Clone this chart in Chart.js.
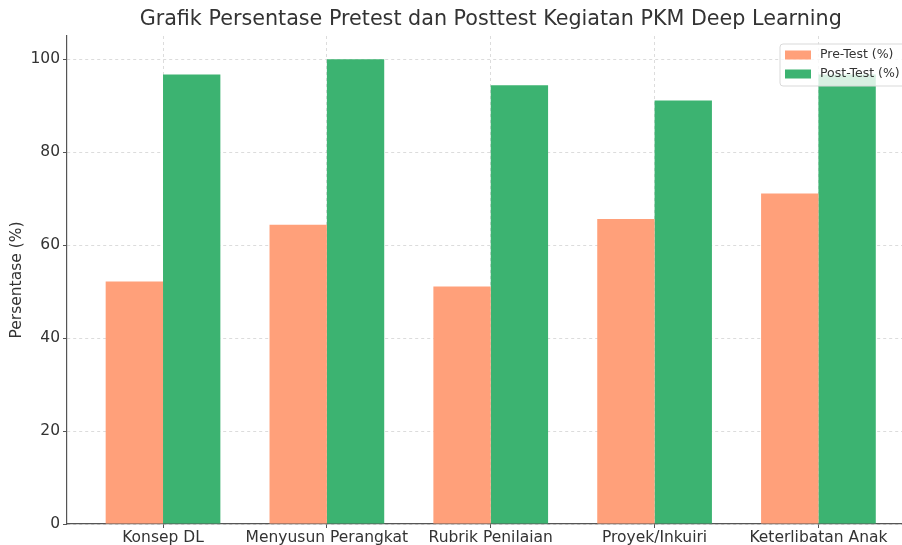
<!DOCTYPE html>
<html>
<head>
<meta charset="utf-8">
<script src="https://cdn.jsdelivr.net/npm/chart.js@4"></script>
<style>
  html, body { margin: 0; padding: 0; background: #fff; }
  #wrap { width: 902px; height: 545px; }
</style>
</head>
<body>
<div id="wrap"><canvas id="chart"></canvas></div>
<script>
// Data
const categories = ["Konsep DL", "Menyusun Perangkat", "Rubrik Penilaian", "Proyek/Inkuiri", "Keterlibatan Anak"];
const preTest = [52.2, 64.4, 51.1, 65.6, 71.1];
const postTest = [96.7, 100, 94.4, 91.1, 96.7];
const yTicks = [0, 20, 40, 60, 80, 100];
const titleText = "Grafik Persentase Pretest dan Posttest Kegiatan PKM Deep Learning";

const preColor = "#FFA07A";
const postColor = "#3CB371";

// Title centred over the axes (the axes run a little past the right edge)
const axesTitle = {
  id: "axesTitle",
  afterDraw(chart) {
    const ctx = chart.ctx;
    const xs = chart.scales.x;
    const cx = xs.getPixelForValue((categories.length - 1) / 2);
    ctx.save();
    ctx.font = "20.7px 'DejaVu Sans'";
    ctx.fillStyle = "#333";
    ctx.textAlign = "center";
    ctx.textBaseline = "middle";
    ctx.fillText(titleText, cx, 20);
    ctx.restore();
  }
};

// Legend box drawn inside the plot, top right
const innerLegend = {
  id: "innerLegend",
  afterDatasetsDraw(chart) {
    const ctx = chart.ctx;
    const x = 780, y = 44, w = 130, h = 42;
    ctx.save();
    ctx.beginPath();
    ctx.roundRect(x, y, w, h, 3);
    ctx.fillStyle = "rgba(255,255,255,0.8)";
    ctx.fill();
    ctx.strokeStyle = "#d9d9d9";
    ctx.lineWidth = 1;
    ctx.stroke();
    const items = chart.data.datasets.map(ds => ({ label: ds.label, color: ds.backgroundColor }));
    ctx.font = "12.5px 'DejaVu Sans'";
    ctx.textBaseline = "middle";
    items.forEach((it, i) => {
      const cy = y + 11 + i * 19;
      ctx.fillStyle = it.color;
      ctx.fillRect(x + 5, cy - 4.5, 26, 9);
      ctx.fillStyle = "#333";
      ctx.fillText(it.label, x + 40, cy);
    });
    ctx.restore();
  }
};

const toPoints = arr => arr.map((v, i) => ({ x: i, y: v }));

new Chart(document.getElementById("chart"), {
  type: "bar",
  data: {
    datasets: [
      {
        label: "Pre-Test (%)",
        data: toPoints(preTest),
        backgroundColor: preColor,
        categoryPercentage: 0.7,
        barPercentage: 1.0,
      },
      {
        label: "Post-Test (%)",
        data: toPoints(postTest),
        backgroundColor: postColor,
        categoryPercentage: 0.7,
        barPercentage: 1.0,
      },
    ],
  },
  options: {
    responsive: true,
    maintainAspectRatio: false,
    animation: false,
    layout: { padding: { left: 0, right: 0, top: 36, bottom: 0 } },
    plugins: {
      legend: { display: false },
      tooltip: { enabled: false },
      title: { display: false },
    },
    scales: {
      x: {
        type: "linear",
        min: -0.586,
        max: 4.51,
        offset: false,
        grid: {
          offset: false,
          color: "rgba(180,180,180,0.6)",
          lineWidth: 0.8,
          tickLength: 4,
          tickColor: "#555",
          tickWidth: 1,
        },
        border: { color: "#555", width: 1.2, dash: [3, 3] },
        afterBuildTicks: scale => {
          scale.ticks = categories.map((c, i) => ({ value: i }));
        },
        afterFit: scale => { scale.height = 21; },
        ticks: {
          autoSkip: false,
          maxRotation: 0,
          padding: 1,
          color: "#333",
          font: { family: "DejaVu Sans", size: 15.5 },
          callback: v => categories[v],
        },
      },
      y: {
        min: 0,
        max: 105,
        grid: {
          color: "rgba(180,180,180,0.6)",
          lineWidth: 0.8,
          tickLength: 4,
          tickColor: "#555",
          tickWidth: 1,
        },
        border: { color: "#555", width: 1.2, dash: [3, 3] },
        afterBuildTicks: scale => {
          scale.ticks = yTicks.map(v => ({ value: v }));
        },
        afterFit: scale => { scale.width = 67; },
        ticks: {
          padding: 3,
          color: "#333",
          font: { family: "DejaVu Sans", size: 15.5 },
        },
        title: {
          display: true,
          text: "Persentase (%)",
          color: "#333",
          font: { family: "DejaVu Sans", size: 15.5 },
          padding: { top: 8, bottom: 0 },
        },
      },
    },
  },
  plugins: [axesTitle, innerLegend],
});
</script>
</body>
</html>
